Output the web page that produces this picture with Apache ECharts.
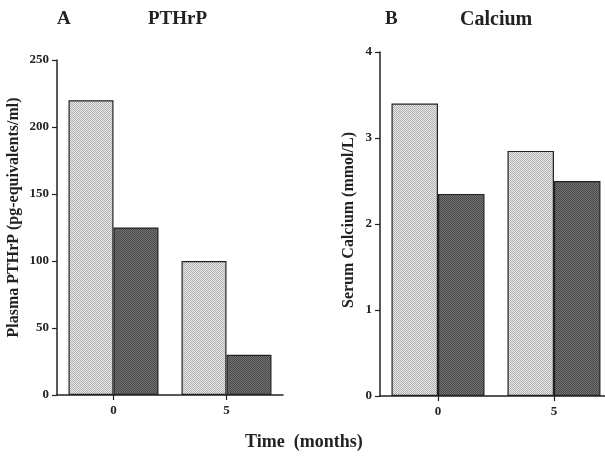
<!DOCTYPE html>
<html>
<head>
<meta charset="utf-8">
<script src="https://cdn.jsdelivr.net/npm/echarts@6/dist/echarts.min.js"></script>
<style>
  html, body { margin: 0; padding: 0; background: #ffffff; }
  #chart { width: 605px; height: 456px; }
</style>
</head>
<body>
<div id="chart"></div>
<script>
// Time points (months)
const months = [0, 5];

// Panel A: plasma PTHrP (pg-equivalents/ml)
const pthrpLight = [220, 100];
const pthrpDark = [125, 30];

// Panel B: serum calcium (mmol/L)
const calciumLight = [3.4, 2.85];
const calciumDark = [2.35, 2.5];

// Stippled fills drawn on small tiles
function stipple(base, dot) {
  const c = document.createElement('canvas');
  c.width = 2; c.height = 2;
  const g = c.getContext('2d');
  g.fillStyle = base; g.fillRect(0, 0, 2, 2);
  g.fillStyle = dot; g.fillRect(0, 0, 1, 1); g.fillRect(1, 1, 1, 1);
  return { image: c, repeat: 'repeat' };
}
const lightFill = stipple('#e8e8e8', '#b0b0b0');
const darkFill = stipple('#727272', '#4a4a4a');

const serif = '"Liberation Serif", "DejaVu Serif", serif';
const axisCol = '#222';

// Month axis: numeric, with ticks only at the sampled months
function timeAxis(gi, max) {
  return {
    type: 'value', gridIndex: gi, min: -2.5, max: max,
    axisLine: { onZero: false, lineStyle: { color: axisCol, width: 1.5 } },
    axisTick: { show: true, customValues: months, length: 5, lineStyle: { color: axisCol, width: 1.2 } },
    axisLabel: { customValues: months, color: '#222', fontFamily: serif, fontWeight: 'bold', fontSize: 13, margin: 9 },
    splitLine: { show: false }
  };
}
function valAxis(gi, max, interval, name, gap, pad) {
  return {
    type: 'value', gridIndex: gi, min: 0, max: max, interval: interval,
    name: name, nameLocation: 'middle', nameGap: gap,
    nameTextStyle: { color: '#222', fontFamily: serif, fontWeight: 'bold', fontSize: 16, padding: pad },
    axisLine: { show: true, onZero: false, lineStyle: { color: axisCol, width: 1.5 } },
    axisTick: { show: true, length: 5, lineStyle: { color: axisCol, width: 1.2 } },
    axisLabel: { color: '#222', fontFamily: serif, fontWeight: 'bold', fontSize: 13, margin: 8 },
    splitLine: { show: false }
  };
}
function bars(gi, values, fill, width) {
  return {
    type: 'bar', xAxisIndex: gi, yAxisIndex: gi,
    data: months.map((m, i) => [m, values[i]]),
    barGap: '0%', barWidth: width,
    itemStyle: { color: fill, borderColor: '#222', borderWidth: 1.2 },
    silent: true
  };
}

const titleStyle = { fontFamily: serif, fontWeight: 'bold', fontSize: 19, color: '#222' };

const chart = echarts.init(document.getElementById('chart'), null, { renderer: 'canvas' });
chart.setOption({
  animation: false,
  backgroundColor: '#ffffff',
  title: [
    { text: 'A', left: 52, top: 5, textStyle: titleStyle },
    { text: 'PTHrP', left: 143, top: 5, textStyle: titleStyle },
    { text: 'B', left: 380, top: 5, textStyle: titleStyle },
    { text: 'Calcium', left: 455, top: 5, textStyle: Object.assign({}, titleStyle, { fontSize: 20 }) },
    { text: 'Time  (months)', left: 240, top: 428, textStyle: Object.assign({}, titleStyle, { fontSize: 18 }) }
  ],
  grid: [
    { left: 57, top: 60, width: 226, height: 335 },
    { left: 380, top: 52, width: 225, height: 344 }
  ],
  xAxis: [timeAxis(0, 7.5), timeAxis(1, 7.2)],
  yAxis: [
    valAxis(0, 250, 50, 'Plasma PTHrP (pg-equivalents/ml)', 35, [0, 0, 0, 20]),
    valAxis(1, 4, 1, 'Serum Calcium (mmol/L)', 23, [0, 0, 0, 8])
  ],
  series: [
    bars(0, pthrpLight, lightFill, 45),
    bars(0, pthrpDark, darkFill, 45),
    bars(1, calciumLight, lightFill, 46.5),
    bars(1, calciumDark, darkFill, 46.5)
  ]
});
</script>
</body>
</html>
